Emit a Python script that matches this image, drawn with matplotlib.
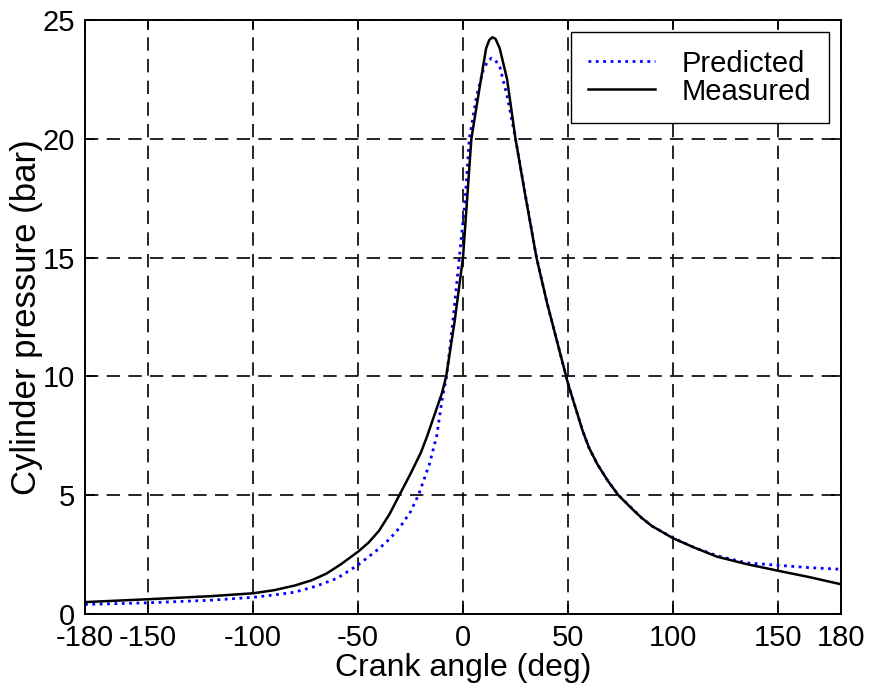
import matplotlib.pyplot as plt
import numpy as np

plt.rcParams['font.family'] = ['Liberation Sans', 'DejaVu Sans']
plt.rcParams['axes.unicode_minus'] = False

# measured cylinder pressure (deg, bar)
meas_deg = [-180, -150, -120, -100, -90, -80, -72, -65, -58, -50, -45, -40, -35, -30, -25, -20, -17, -10, -8, -4, 0,
            4, 8, 11, 12.5, 14, 15.5, 17.5, 21, 25, 29.5, 35, 40, 45, 50, 57, 60, 64, 69, 74, 81, 85, 90, 100,
            110, 121, 135, 150, 165, 180]
meas_bar = [0.50, 0.62, 0.75, 0.87, 1.0, 1.20, 1.42, 1.70, 2.1, 2.62, 3.0, 3.50, 4.2, 5.05, 5.9, 6.80, 7.5, 9.3, 10.0, 12.3, 15.0,
            20.0, 22.2, 23.8, 24.15, 24.27, 24.2, 23.8, 22.5, 20.0, 17.7, 15.0, 13.1, 11.4, 9.7, 7.7, 7.0, 6.3, 5.6, 5.0, 4.38,
            4.05, 3.7, 3.19, 2.8, 2.41, 2.1, 1.82, 1.55, 1.25]

# predicted cylinder pressure (deg, bar)
pred_deg = [-180, -150, -120, -100, -90, -80, -70, -60, -50, -40, -35, -30, -25, -21, -16, -12.5, -10, -7.8,
            -4.6, -1.5, 1, 3, 6.5, 9.7, 12, 13.7, 15.5, 17.6, 21, 25, 30, 35, 40, 45, 50, 57, 60, 64, 69, 74, 81,
            85, 90, 100, 110, 121, 135, 150, 165, 180]
pred_bar = [0.40, 0.47, 0.58, 0.70, 0.80, 0.92, 1.17, 1.5, 2.06, 2.75, 3.15, 3.65, 4.3, 5.05, 6.3, 7.5, 9.0, 10.0,
            12.5, 15.2, 17.4, 20.0, 21.8, 22.9, 23.3, 23.39, 23.3, 23.0, 21.8, 20.0, 17.5, 15.0, 13.1, 11.4, 9.7, 7.7, 7.0,
            6.3, 5.6, 5.0, 4.4, 4.05, 3.7, 3.2, 2.8, 2.45, 2.15, 2.05, 1.95, 1.88]

x_ticks = [-180, -150, -100, -50, 0, 50, 100, 150, 180]
y_ticks = [0, 5, 10, 15, 20, 25]

fig = plt.figure(figsize=(8.72, 6.86), dpi=100)
ax = fig.add_axes([0.0975, 0.105, 0.8669, 0.866])

ax.plot(pred_deg, pred_bar, ':', color='#0000ff', lw=2.0, label='Predicted')
ax.plot(meas_deg, meas_bar, '-', color='black', lw=1.8, label='Measured')

ax.set_xlim(-180, 180)
ax.set_ylim(0, 25)
ax.set_xticks(x_ticks)
ax.set_yticks(y_ticks)
ax.grid(True, color='black', linestyle=(0, (8, 5)), lw=1.2)
ax.tick_params(direction='in', length=7, width=1.2, top=True, right=True, labelsize=21)
ax.tick_params(axis='x', pad=7)
ax.tick_params(axis='y', pad=7)
for s in ax.spines.values():
    s.set_linewidth(1.4)

ax.set_xlabel('Crank angle (deg)', fontsize=23, labelpad=1)
ax.set_ylabel('Cylinder pressure (bar)', fontsize=25, labelpad=0)

leg = ax.legend(loc='upper right', fontsize=21, fancybox=False, framealpha=1,
                edgecolor='black', borderaxespad=0.42, handlelength=2.3,
                handletextpad=0.9, borderpad=0.6, labelspacing=0.0)
leg.get_frame().set_linewidth(1.0)

plt.savefig('out.png', dpi=100)
